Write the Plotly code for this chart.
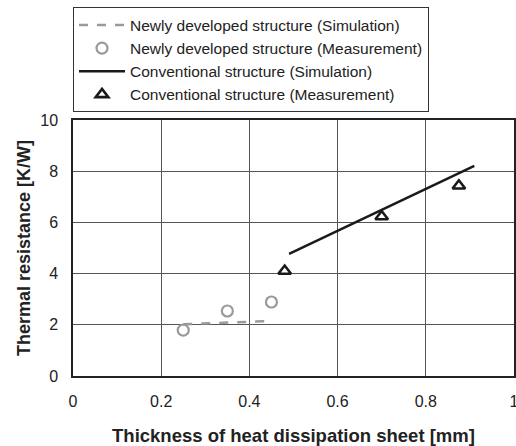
import plotly.graph_objects as go

new_sim_x = [0.25, 0.45]
new_sim_y = [2.02, 2.15]
new_meas_x = [0.25, 0.35, 0.45]
new_meas_y = [1.79, 2.54, 2.89]
conv_sim_x = [0.49, 0.91]
conv_sim_y = [4.77, 8.21]
conv_meas_x = [0.48, 0.70, 0.875]
conv_meas_y = [4.10, 6.23, 7.43]
x_ticks = [0, 0.2, 0.4, 0.6, 0.8, 1]
x_tick_labels = ["0", "0.2", "0.4", "0.6", "0.8", "1"]
y_ticks = [0, 2, 4, 6, 8, 10]

GRAY = "#9a9a9a"
DARK = "#1a1a1a"

fig = go.Figure()
fig.add_trace(go.Scatter(x=new_sim_x, y=new_sim_y, mode="lines",
                         name="Newly developed structure (Simulation)",
                         line=dict(color=GRAY, width=2.5, dash="dash")))
fig.add_trace(go.Scatter(x=new_meas_x, y=new_meas_y, mode="markers",
                         name="Newly developed structure (Measurement)",
                         marker=dict(symbol="circle-open", size=11, color=GRAY,
                                     line=dict(width=2.2, color=GRAY))))
fig.add_trace(go.Scatter(x=conv_sim_x, y=conv_sim_y, mode="lines",
                         name="Conventional structure (Simulation)",
                         line=dict(color=DARK, width=2.5)))
fig.add_trace(go.Scatter(x=conv_meas_x, y=conv_meas_y, mode="markers",
                         name="Conventional structure (Measurement)",
                         marker=dict(symbol="triangle-up-open", size=11, color=DARK,
                                     line=dict(width=2.6, color=DARK))))

font = "Liberation Sans, Arial, sans-serif"
fig.update_layout(
    width=516, height=446,
    margin=dict(l=73, r=2, t=120, b=70),
    paper_bgcolor="white", plot_bgcolor="white",
    font=dict(family=font, size=16, color="#222"),
    showlegend=True,
    legend=dict(x=0.0, y=1.44, xanchor="left", yanchor="top",
                bordercolor="#333", borderwidth=1, bgcolor="white",
                font=dict(size=15.5, family=font, color="#222"),
                tracegroupgap=0, itemwidth=46),
    xaxis=dict(range=[0, 1], tickvals=x_ticks, ticktext=x_tick_labels,
               showgrid=True, gridcolor="#555", gridwidth=1,
               showline=True, linecolor="#222", linewidth=1.5, mirror=True,
               zeroline=False, ticks="", ticklen=0, ticklabelstandoff=10,
               automargin=False, ticklabeloverflow="allow",
               title=dict(text="<b>Thickness of heat dissipation sheet [mm]</b>",
                          font=dict(size=18.5, family=font, color="#222"), standoff=30)),
    yaxis=dict(range=[0, 10], tickvals=y_ticks,
               showgrid=True, gridcolor="#555", gridwidth=1,
               showline=True, linecolor="#222", linewidth=1.5, mirror=True,
               zeroline=False, ticks="", ticklen=0, ticklabelstandoff=10,
               automargin=False,
               title=dict(text="<b>Thermal resistance [K/W]</b>",
                          font=dict(size=18, family=font, color="#222"), standoff=5)),
)
fig.write_html("out.html")
